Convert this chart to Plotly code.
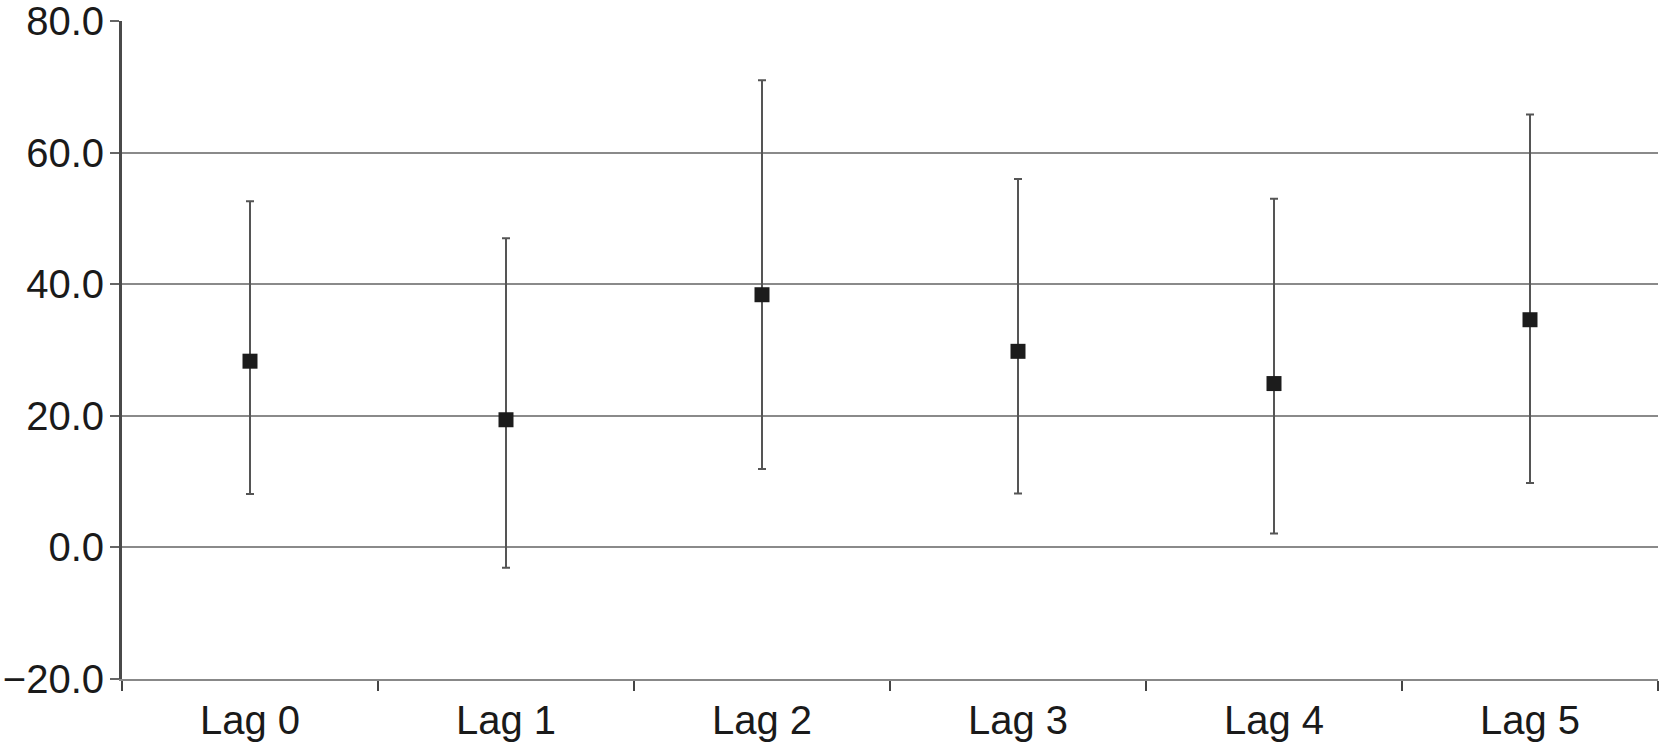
import plotly.graph_objects as go

categories = ["Lag 0", "Lag 1", "Lag 2", "Lag 3", "Lag 4", "Lag 5"]
estimate = [28.3, 19.4, 38.4, 29.8, 24.9, 34.6]
upper = [52.6, 47.0, 71.0, 56.0, 53.0, 65.8]
lower = [8.1, -3.1, 11.9, 8.2, 2.1, 9.8]

err_plus = [u - e for u, e in zip(upper, estimate)]
err_minus = [e - l for e, l in zip(estimate, lower)]

fig = go.Figure()
fig.add_trace(go.Scatter(
    x=categories, y=estimate, mode="markers",
    marker=dict(symbol="square", size=15, color="#1c1c1c"),
    error_y=dict(type="data", symmetric=False, array=err_plus, arrayminus=err_minus,
                 color="#555555", thickness=2, width=4),
    showlegend=False,
))

fig.update_layout(
    width=1659, height=747,
    margin=dict(l=122, r=1, t=21, b=68),
    paper_bgcolor="white", plot_bgcolor="white",
    font=dict(family="Liberation Sans, Arial, sans-serif", size=40, color="#1a1a1a"),
)
fig.update_xaxes(
    type="category", tickson="boundaries", ticks="outside", ticklen=10,
    tickwidth=2, tickcolor="#444444",
    showline=True, linecolor="#888888", linewidth=2,
    showgrid=False, range=[-0.5, 5.5], automargin=False, ticklabelstandoff=5,
)
fig.update_yaxes(
    range=[-20, 80], dtick=20, tickformat=".1f",
    ticks="outside", ticklen=9, tickwidth=2, tickcolor="#666666",
    showline=True, linecolor="#4a4a4a", linewidth=3,
    showgrid=True, gridcolor="#8a8a8a", gridwidth=2,
    zeroline=False, automargin=False, ticklabelstandoff=-2,
    ticklabeloverflow="allow",
)

fig.write_html("out.html", config={"displayModeBar": False},
               post_script="document.body.style.margin='0';")
